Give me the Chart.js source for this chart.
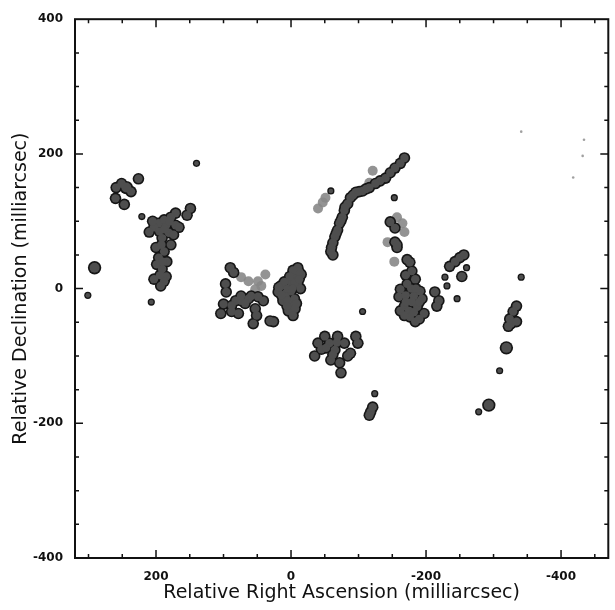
<!DOCTYPE html>
<html>
<head>
<meta charset="utf-8">
<script src="https://cdn.jsdelivr.net/npm/chart.js@4"></script>
<style>
html,body{margin:0;padding:0;background:#fff;}
#wrap{width:615px;height:610px;}
</style>
</head>
<body>
<div id="wrap"><canvas id="c" width="615" height="610"></canvas></div>
<script>
// Axis ranges and tick labels (milliarcsec)
const xRange = [-470, 320];
const yRange = [-400, 400];
const xTickLabels = [-400, -200, 0, 200];
const yTickLabels = [-400, -200, 0, 200, 400];
const xTickMarks = [300,250,200,150,100,50,0,-50,-100,-150,-200,-250,-300,-350,-400,-450];
const yTickMarks = [-350,-300,-250,-200,-150,-100,-50,0,50,100,150,200,250,300,350];

// Maser spots [RA offset, Dec offset]
const largeSpots = [[291,31],[244,150],[-319,-88],[-293,-173]];
const smallSpots = [[301,-10],[140,186],[221,107],[207,-20],[-59,145],[-153,135],[-106,-34],
  [-124,-156],[-341,17],[-309,-122],[-278,-183],[-246,-15],[-231,4],[-228,17],[-260,31]];
const mainSpots = [
  // north-west clump
  [251,156],[237,144],[259,150],[226,163],[260,134],[247,125],[244,150],
  // western column
  [171,112],[178,106],[196,97],[203,91],[210,84],[185,94],[171,94],[166,91],[181,83],[191,75],
  [178,65],[200,61],[188,55],[196,46],[184,40],[199,36],[191,29],[185,18],[188,11],[193,4],
  [203,14],[149,119],[154,109],[188,102],[174,80],[195,85],[205,100],[188,88],[180,100],
  [192,65],[190,40],[194,20],
  // central-west group
  [90,31],[85,24],[97,7],[96,-5],[100,-23],[104,-37],[88,-34],[78,-37],[82,-18],[74,-18],
  [63,-15],[74,-11],[59,-11],[49,-12],[53,-30],[51,-40],[56,-52],[41,-18],[31,-48],[26,-49],
  [68,-22],[88,-25],
  // central blob
  [-10,31],[-6,21],[1,11],[15,4],[19,-5],[9,-8],[0,-4],[-10,7],[-15,21],[12,-18],[1,-23],
  [4,-33],[-6,-30],[-3,-40],[-5,10],[5,0],[8,-12],[-12,25],[-3,27],[-12,14],[2,18],[10,10],
  [-2,0],[14,-10],[5,-18],[-5,-15],[-8,-22],[6,-26],[18,2],[-14,0],
  // arc
  [-168,194],[-162,186],[-154,179],[-147,172],[-140,164],[-132,160],[-125,156],[-116,150],
  [-106,145],[-96,143],[-88,135],[-84,126],[-79,116],[-76,106],[-72,97],[-69,87],[-65,77],
  [-62,68],[-59,55],[-62,50],[-92,139],[-101,144],[-111,148],[-80,121],[-74,101],[-67,82],[-60,61],
  // eastern column
  [-147,99],[-154,90],[-154,69],[-157,61],[-172,43],[-157,65],
  // south clump
  [-40,-81],[-35,-100],[-50,-71],[-57,-81],[-65,-91],[-59,-106],[-72,-110],[-74,-125],[-69,-71],
  [-79,-81],[-96,-71],[-99,-81],[-88,-96],[-84,-100],[-45,-90],[-62,-98],[-52,-88],[-68,-80],
  [-118,-183],[-121,-176],[-116,-188],
  // eastern clump
  [-176,39],[-179,26],[-184,14],[-172,7],[-162,-1],[-160,-12],[-168,-26],[-162,-33],[-175,-33],
  [-187,-27],[-194,-15],[-182,-11],[-191,-4],[-176,-42],[-184,-49],[-197,-37],[-179,-20],
  [-170,20],[-178,0],[-170,-10],[-185,0],[-190,-20],[-170,-20],[-168,-40],[-190,-45],[-182,-35],
  [-213,-5],[-219,-18],[-216,-26],
  [-235,33],[-243,40],[-250,46],[-256,50],[-253,18],
  // far east
  [-334,-26],[-329,-34],[-324,-45],[-326,-52],[-334,-49],[-322,-56]
];
const greySpots = [[74,17],[63,11],[49,11],[44,4],[38,21],[53,-1],[-116,157],[-121,175],
  [-51,135],[-47,128],[-40,119],[-157,106],[-165,97],[-168,84],[-143,69],[-153,40]];
const faintSpots = [[-434,221],[-432,197],[-418,165],[-341,233]];

const pts = a => a.map(p => ({x:p[0], y:p[1]}));
const OUT = '#161616', FILL = '#4e4e4e';

const datasets = [
  {data: pts(largeSpots), pointRadius:5, backgroundColor:FILL, borderWidth:0, order:1},
  {data: pts(mainSpots), pointRadius:4.2, backgroundColor:FILL, borderWidth:0, order:1},
  {data: pts(smallSpots), pointRadius:2.3, backgroundColor:FILL, borderWidth:0, order:1},
  {data: pts(largeSpots), pointRadius:6.7, backgroundColor:OUT, borderWidth:0, order:2},
  {data: pts(mainSpots), pointRadius:5.8, backgroundColor:OUT, borderWidth:0, order:2},
  {data: pts(smallSpots), pointRadius:3.6, backgroundColor:OUT, borderWidth:0, order:2},
  {data: pts(greySpots), pointRadius:5, backgroundColor:'rgba(135,135,135,0.9)', borderWidth:0, order:3},
  {data: pts(faintSpots), pointRadius:1.3, backgroundColor:'rgba(120,120,120,0.7)', borderWidth:0, order:3}
];

const frame = {
  id:'frame',
  afterDatasetsDraw(chart){
    const {ctx, chartArea:{left,right,top,bottom}, scales:{x,y}} = chart;
    ctx.save();
    ctx.strokeStyle = '#111';
    ctx.lineWidth = 1.5;
    ctx.beginPath();
    xTickMarks.forEach(v => {
      const p = x.getPixelForValue(v), len = (v % 200 === 0) ? 8 : 4;
      ctx.moveTo(p, bottom); ctx.lineTo(p, bottom - len);
      ctx.moveTo(p, top); ctx.lineTo(p, top + len);
    });
    yTickMarks.forEach(v => {
      const p = y.getPixelForValue(v), len = (v % 200 === 0) ? 8 : 4;
      ctx.moveTo(left, p); ctx.lineTo(left + len, p);
      ctx.moveTo(right, p); ctx.lineTo(right - len, p);
    });
    ctx.stroke();
    ctx.lineWidth = 2;
    ctx.strokeRect(left, top, right - left, bottom - top);
    ctx.restore();
  }
};

new Chart(document.getElementById('c'), {
  type:'scatter',
  data:{datasets},
  plugins:[frame],
  options:{
    responsive:false,
    animation:false,
    devicePixelRatio:1,
    layout:{padding:{top:11, right:3, left:0, bottom:0}},
    plugins:{legend:{display:false}, tooltip:{enabled:false}},
    elements:{point:{hoverRadius:0}},
    scales:{
      x:{
        type:'linear', reverse:true, min:xRange[0], max:xRange[1],
        afterBuildTicks: s => { s.ticks = xTickLabels.map(v => ({value:v})); },
        afterFit: s => { s.height = 52; },
        grid:{display:false, drawTicks:false},
        border:{display:false},
        ticks:{padding:12, color:'#111', font:{family:'DejaVu Sans', size:12, weight:'bold'}, maxRotation:0},
        title:{display:true, text:'Relative Right Ascension (milliarcsec)', color:'#111',
          font:{family:'DejaVu Sans', size:19}, padding:{top:0, bottom:6}}
      },
      y:{
        type:'linear', min:yRange[0], max:yRange[1],
        afterBuildTicks: s => { s.ticks = yTickLabels.map(v => ({value:v})); },
        afterFit: s => { s.width = 75; },
        grid:{display:false, drawTicks:false},
        border:{display:false},
        ticks:{padding:12, color:'#111', font:{family:'DejaVu Sans', size:12, weight:'bold'}},
        title:{display:true, text:'Relative Declination (milliarcsec)', color:'#111',
          font:{family:'DejaVu Sans', size:19}, padding:{top:10, bottom:0}}
      }
    }
  }
});
</script>
</body>
</html>
